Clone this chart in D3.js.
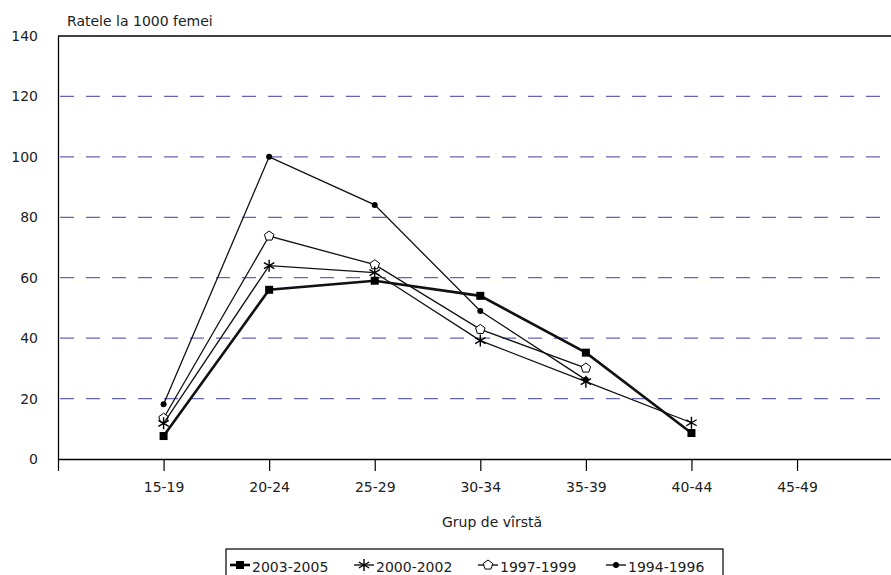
<!DOCTYPE html>
<html>
<head>
<meta charset="utf-8">
<script src="https://cdn.jsdelivr.net/npm/d3@7"></script>
<style>
  body { margin: 0; background: #fff; }
  svg { display: block; font-family: "DejaVu Sans", sans-serif; }
</style>
</head>
<body>
<div id="chart"></div>
<script>
// Age groups and values (rates per 1000 women)
const ageGroups = ["15-19", "20-24", "25-29", "30-34", "35-39", "40-44", "45-49"];
const rates0305 = [7.6, 56, 59, 54, 35.2, 8.6];
const rates0002 = [11.8, 64, 61.7, 39.2, 25.6, 12];
const rates9799 = [13.5, 73.8, 64.3, 42.9, 30.1];
const rates9496 = [18.1, 100, 84.1, 49, 26.2];
const yTicks = [0, 20, 40, 60, 80, 100, 120, 140];

const series = [
  {name: "2003-2005", values: rates0305, marker: "square", width: 2.6},
  {name: "2000-2002", values: rates0002, marker: "star", width: 1.3},
  {name: "1997-1999", values: rates9799, marker: "pentagon", width: 1.3},
  {name: "1994-1996", values: rates9496, marker: "dot", width: 1.3}
];

const W = 891, H = 575;
const plotLeft = 58, plotTop = 36, plotBottom = 459;

const svg = d3.select("#chart").append("svg")
  .attr("width", W).attr("height", H);

// Scales: categories sit one step in from the left edge
const x = d3.scaleLinear().domain([-1, 6.89]).range([plotLeft, W]);
const y = d3.scaleLinear().domain([0, 140]).range([plotBottom, plotTop]);

// Dashed gridlines
svg.append("g").selectAll("line")
  .data(yTicks.filter(d => d > 0 && d < 140))
  .join("line")
  .attr("x1", plotLeft + 2).attr("x2", W)
  .attr("y1", d => y(d)).attr("y2", d => y(d))
  .attr("stroke", "#6464bc")
  .attr("stroke-width", 1.2)
  .attr("stroke-dasharray", "14,12");

// Frame: top
svg.append("line").attr("x1", plotLeft).attr("x2", W).attr("y1", plotTop).attr("y2", plotTop)
  .attr("stroke", "#000").attr("stroke-width", 1.3);

// Y axis
const yAxis = svg.append("g")
  .attr("transform", `translate(${plotLeft},0)`)
  .call(d3.axisLeft(y).tickValues(yTicks).tickSize(0).tickPadding(20));
yAxis.select(".domain").attr("stroke", "#000").attr("stroke-width", 1.3);
yAxis.selectAll("text").attr("font-size", 14).attr("fill", "#222")
  .attr("font-family", "DejaVu Sans");

// X axis
const xAxis = svg.append("g")
  .attr("transform", `translate(0,${plotBottom})`)
  .call(d3.axisBottom(x).tickValues([-1, 0, 1, 2, 3, 4, 5, 6])
    .tickFormat(i => i >= 0 ? ageGroups[i] : "")
    .tickSize(12).tickPadding(11).tickSizeOuter(0));
xAxis.select(".domain").attr("stroke", "#000").attr("stroke-width", 1.3);
xAxis.selectAll(".tick line").attr("stroke", "#000").attr("stroke-width", 1.2);
xAxis.selectAll("text").attr("font-size", 14).attr("fill", "#222")
  .attr("font-family", "DejaVu Sans");

// Titles
svg.append("text").attr("x", 67).attr("y", 26)
  .attr("font-size", 14).attr("fill", "#222").text("Ratele la 1000 femei");
svg.append("text").attr("x", 492).attr("y", 527)
  .attr("text-anchor", "middle").attr("font-size", 14).attr("fill", "#222")
  .text("Grup de vîrstă");

// Marker drawing
function drawMarker(g, type, cx, cy) {
  if (type === "square") {
    g.append("rect").attr("x", cx - 4).attr("y", cy - 4)
      .attr("width", 8).attr("height", 8).attr("fill", "#000");
  } else if (type === "dot") {
    g.append("circle").attr("cx", cx).attr("cy", cy).attr("r", 3).attr("fill", "#000");
  } else if (type === "pentagon") {
    const pts = d3.range(5).map(k => {
      const a = -Math.PI / 2 + k * 2 * Math.PI / 5;
      return [cx + 5 * Math.cos(a), cy + 5 * Math.sin(a)];
    });
    g.append("polygon").attr("points", pts.map(p => p.join(",")).join(" "))
      .attr("fill", "#fff").attr("stroke", "#000").attr("stroke-width", 1);
  } else if (type === "star") {
    g.append("path")
      .attr("d", d3.range(3).map(k => {
        const a = -Math.PI / 2 + k * Math.PI / 3;
        const dx = 6 * Math.cos(a), dy = 6 * Math.sin(a);
        return `M${cx - dx},${cy - dy}L${cx + dx},${cy + dy}`;
      }).join(""))
      .attr("stroke", "#000").attr("stroke-width", 1.4);
  }
}

const line = d3.line().x((d, i) => x(i)).y(d => y(d));

// Draw series (oldest first so the thick one sits on top)
series.slice().reverse().forEach(s => {
  const g = svg.append("g");
  g.append("path").datum(s.values)
    .attr("d", line)
    .attr("fill", "none")
    .attr("stroke", "#111")
    .attr("stroke-width", s.width);
  s.values.forEach((v, i) => drawMarker(g, s.marker, x(i), y(v)));
});

// Legend
const legend = svg.append("g");
legend.append("rect").attr("x", 226).attr("y", 549)
  .attr("width", 497).attr("height", 40)
  .attr("fill", "#fff").attr("stroke", "#000").attr("stroke-width", 1.2);
const legendX = [230, 354, 478, 606];
series.forEach((s, k) => {
  const g = legend.append("g");
  const lx = legendX[k];
  g.append("line").attr("x1", lx).attr("x2", lx + 20)
    .attr("y1", 565).attr("y2", 565)
    .attr("stroke", "#000").attr("stroke-width", s.width);
  drawMarker(g, s.marker, lx + 10, 565);
  g.append("text").attr("x", lx + 22).attr("y", 572)
    .attr("font-size", 14).attr("fill", "#222").text(s.name);
});
</script>
</body>
</html>
